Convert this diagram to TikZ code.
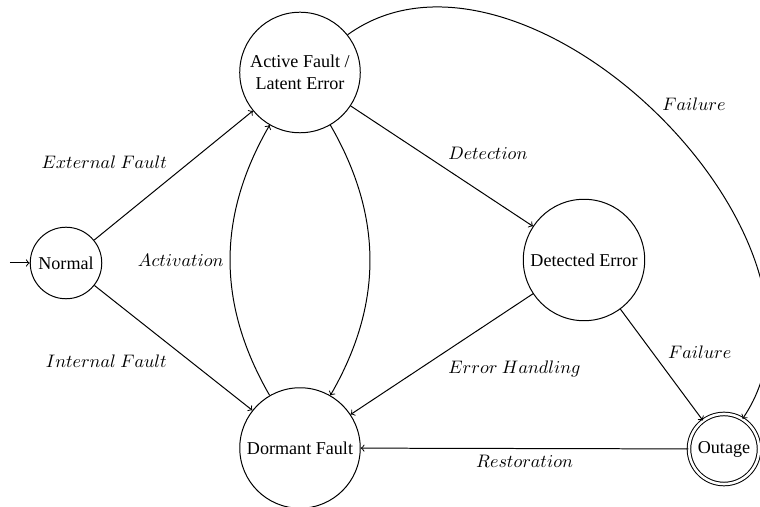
\documentclass[tikz,border=0pt]{standalone}
\usepackage{fontspec}
\setmainfont{Liberation Serif}
\begin{document}
\begin{tikzpicture}[x=0.5525pt, y=-0.5525pt, line width=0.55pt,
  stnode/.style={circle, draw, inner sep=0.3333em},
  acc/.style={stnode, double, double distance=1.4pt},
  trans/.style={->}]
\useasboundingbox (0,0) rectangle (760,507);

% states
\node[stnode] (N) at (66,263) {Normal};
\node[stnode, align=center] (A) at (300,72.5) {Active Fault /\\Latent Error};
\node[stnode] (D) at (584,260) {Detected Error};
\node[stnode] (F) at (300,448) {Dormant Fault};
\node[acc] (O) at (724,449) {Outage};

% initial marker
\coordinate (init) at (10,263);
\draw[trans] (init) -- (N);

% transitions
\draw[trans] (N) -- node[above left] {$External\ Fault$} (A);
\draw[trans] (N) -- node[below left] {$Internal\ Fault$} (F);
\draw[trans] (F) to[bend left=30] node[left] {$Activation$} (A);
\draw[trans] (A) to[bend left=30] (F);
\draw[trans] (A) -- node[above right] {$Detection$} (D);
\draw[trans] (D) -- node[below right] {$Error\ Handling$} (F);
\draw[trans] (D) -- node[above right] {$Failure$} (O);
\draw[trans] (A) to[bend left=80] node[right, yshift=5pt] {$Failure$} (O);
\draw[trans] (O) -- node[below] {$Restoration$} (F);
\end{tikzpicture}
\end{document}
